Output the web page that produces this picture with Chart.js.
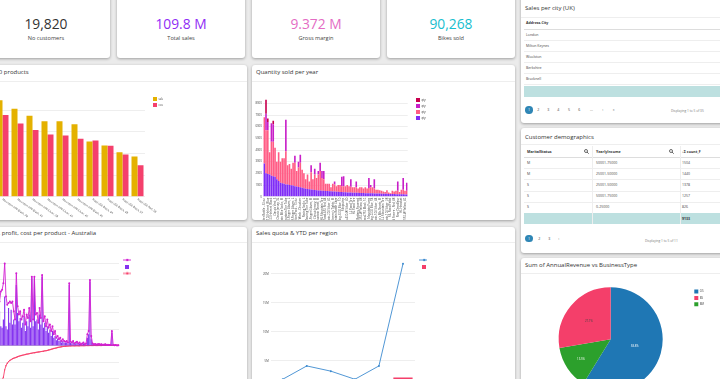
<!DOCTYPE html>
<html><head><meta charset="utf-8">
<script src="https://cdn.jsdelivr.net/npm/chart.js@4.4.1/dist/chart.umd.min.js"></script>
<style>
html,body{margin:0;padding:0;}
body{width:720px;height:379px;overflow:hidden;position:relative;background:#ebebeb;font-family:'Open Sans',sans-serif;color:#333;}
canvas{position:absolute;}
svg{display:block;}
</style></head><body>
<script>
// ---------------- DATA ----------------
const kpiValues = ['19,820', '109.8 M', '9.372 M', '90,268'];
const kpiLabels = ['No customers', 'Total sales', 'Gross margin', 'Bikes sold'];

const topProducts = ['Mountain-200 Black, 38','Mountain-200 Black, 42','Mountain-200 Silver, 38','Mountain-200 Silver, 42','Mountain-200 Silver, 46','Mountain-200 Black, 46','Road-250 Black, 44','Road-250 Black, 48','Road-250 Black, 52','Road-250 Red, 58'];
const topSales = [4460000,4060000,3740000,3490000,3490000,3350000,2550000,2370000,2050000,1860000];
const topCost  = [3770000,3380000,3080000,2880000,2830000,2680000,2600000,2350000,1950000,1450000];

const qtyProducts = ['Water Bottle - 30 oz.','AWC Logo Cap','Sport-100 Helmet, Blue','Long-Sleeve Logo Jersey, L','Sport-100 Helmet, Black','Sport-100 Helmet, Red','Classic Vest, S','Patch Kit/8 Patches','Short-Sleeve Classic Jersey, XL','Long-Sleeve Logo Jersey, M',
'Mountain Bike Socks, M','Half-Finger Gloves, M','Mountain Tire Tube','Road Tire Tube','Full-Finger Gloves, L',"Women's Mountain Shorts, S",'Half-Finger Gloves, L','Short-Sleeve Classic Jersey, L','Hydration Pack - 70 oz.','Long-Sleeve Logo Jersey, XL',
'Bike Wash - Dissolver',"Women's Tights, L",'Racing Socks, L','Mountain-200 Black, 38','Touring Tire Tube','Fender Set - Mountain','Full-Finger Gloves, M','Mountain-200 Silver, 38','Short-Sleeve Classic Jersey, M','Classic Vest, M',
"Women's Mountain Shorts, M",'Mountain-200 Black, 42','HL Mountain Tire','ML Mountain Tire','Road-650 Red, 44','Cable Lock','Mountain-200 Silver, 42','Racing Socks, M',"Women's Tights, M",'Road-650 Black, 52',
'Mountain Bottle Cage','Road Bottle Cage','Touring-3000 Blue, 50','Road-250 Black, 44','Minipump','Headlights - Dual-Beam','Mountain-400-W Silver, 40','Road-550-W Yellow, 38','LL Road Tire','ML Road Tire',
'HL Road Tire','Touring Tire','Taillights - Battery-Powered','Mountain-100 Black, 44','Road-350-W Yellow, 48','Touring-1000 Blue, 60','Road-750 Black, 52','Mountain-300 Black, 40','Mountain Pump','All-Purpose Bike Stand',
'Touring-2000 Blue, 54','Road-150 Red, 62','Mountain-500 Silver, 44','Headlights - Weatherproof',"Men's Bib-Shorts, M","Men's Sports Shorts, L",'LL Mountain Tire','Road-450 Red, 52','Mountain-100 Silver, 38','Touring Pedal',
'ML Road Pedal','HL Mountain Pedal','LL Road Frame - Red, 48','Front Brakes','Rear Derailleur','ML Crankset','HL Headset','Chain','Road-550-W Yellow, 42','Touring-3000 Yellow, 44'];
const qty2014 = [2850,2000,1950,1900,1800,1750,1700,1500,1350,1200, 1150,1100,1050,1050,1000,980,950,900,870,840, 800,760,720,690,660,640,620,600,580,560, 540,530,520,500,490,480,470,460,450,440, 430,420,410,400,390,380,370,360,350,345, 340,335,330,320,315,310,305,300,295,290, 285,280,275,270,265,260,255,250,245,240, 235,230,225,220,215,210,205,200,195,190];
const qty2013 = [3950,3700,3750,1900,2900,2950,2500,1500,2450,1800, 2150,2200,2850,1650,1800,1420,1950,2000,1330,1660, 2100,1540,1280,810,1240,660,1480,900,1320,1040, 1360,1670,1080,1000,610,620,630,340,650,610, 470,580,590,500,510,520,630,540,500,455, 460,465,370,480,485,390,495,400,455,510, 515,420,325,330,285,240,195,150,305,110, 65,270,225,280,285,190,395,400,305,310];
const qty2012 = [0,1400,700,0,1600,1500,0,0,0,0, 0,0,2700,0,0,0,0,600,0,500, 700,0,0,0,0,0,600,0,500,0, 300,700,600,700,0,0,0,0,0,250, 0,0,0,800,850,0,0,0,650,0, 0,500,0,0,0,0,0,0,850,200, 0,800,0,0,0,0,0,0,0,0, 0,0,0,0,800,0,0,1000,0,700];
const qty2011 = [0,1200,300,0,0,300,0,0,0,0, 0,0,0,0,0,0,0,0,0,0, 0,0,0,0,0,0,0,0,0,0, 0,0,0,0,0,0,0,0,0,0, 0,0,0,0,0,0,0,0,0,0, 0,0,0,0,0,0,0,0,0,0, 0,0,0,0,0,0,0,0,0,0, 0,0,0,0,0,0,0,0,0,0];

const ausProducts = ['BK-M68B-38','BK-M68B-42','BK-M68S-38','BK-M68S-42','BK-M68S-46','BK-M68B-46','BK-R50B-44','BK-R50B-48','BK-R50B-52','BK-R50R-58',
'BK-R93R-62','BK-R93R-44','BK-R93R-48','BK-R93R-52','BK-R93R-56','BK-M82B-38','BK-M82B-42','BK-M82B-44','BK-M82B-48','BK-M82S-38',
'BK-M82S-42','BK-M82S-44','BK-M82S-48','BK-T79U-46','BK-T79U-50','BK-T79U-54','BK-T79U-60','BK-T79Y-46','BK-T79Y-50','BK-T79Y-54',
'BK-T79Y-60','BK-R89B-44','BK-R89B-48','BK-R89B-52','BK-R89B-58','BK-R89R-44','BK-R89R-48','BK-R89R-52','BK-R89R-58','BK-T44U-46',
'BK-T44U-50','BK-T44U-54','BK-T44U-60','BK-M38S-38','BK-M38S-40','BK-M38S-42','BK-M38S-46','BK-R64Y-38','BK-R64Y-40','BK-R64Y-42',
'BK-R64Y-44','BK-R64Y-48','BK-R68R-44','BK-R68R-48','BK-R68R-52','BK-R68R-58','BK-R68R-60','BK-M47B-38','BK-M47B-40','BK-M47B-44',
'BK-M47B-48','BK-M18B-40','BK-M18B-42','BK-M18B-44','BK-M18B-48','BK-M18B-52','BK-R19B-44','BK-R19B-48','BK-R19B-52','BK-R19B-58',
'BK-T18U-44','BK-T18U-50','BK-T18U-54','BK-T18U-58','BK-T18U-62','BK-T18Y-44','BK-T18Y-50','BK-T18Y-54','BK-T18Y-58','BK-T18Y-62',
'BK-M18S-40','BK-M18S-42','BK-M18S-44','BK-M18S-48','BK-M18S-52','BK-R79Y-40','BK-R79Y-42','BK-R79Y-44','BK-R79Y-48','BK-M38S-48',
'BK-R50B-58','BK-R50R-44','BK-R50R-48','BK-R50R-52','BK-M47B-52','BK-M68B-52'];
const ausCost = [2400,2800,3100,2700,3300,3400,3800,5000,3000,2500, 2600,2700,2600,2700,2100,1600,4400,2400,1900,2100, 1600,1800,2200,1300,1900,1700,2300,1500,4200,1600, 4200,1900,2000,1400,2300,1700,4300,1500,1800,1200, 1600,1100,1300,900,1200,700,900,500,600,400, 500,300,400,300,250,300,200,3800,250,200, 300,150,200,250,150,200,100,150,200,100, 150,700,900,4000,600,150,100,120,80,100, 120,80,100,60,80,100,50,70,60,50, 900,50,40,50,30,40];
const ausPrice = [1900,2200,2500,2100,1200,1100,1600,3000,1200,1000, 2300,1400,2200,1300,1600,1300,3700,2000,1500,1700, 1100,1400,1800,900,1500,1200,1900,1100,4100,1200, 4100,1500,1600,1000,1900,1300,4200,1100,1400,900, 1200,800,1000,600,900,500,600,350,450,300, 350,200,300,200,180,220,150,3700,180,150, 220,100,150,180,100,150,80,100,150,80, 100,500,700,3900,400,100,80,90,60,80, 90,60,80,40,60,80,40,50,40,40, 800,40,30,40,20,30];
const ausProfit = [-4500,-3600,-3000,-2600,-2300,-2100,-1900,-1450,-1200,-1050, -950,-880,-830,-780,-750,-720,-690,-660,-630,-600, -580,-560,-540,-520,-500,-490,-470,-450,-440,-420, -410,-400,-380,-370,-360,-345,-330,-320,-300,-290, -270,-250,-230,-200,-180,-160,-140,-120,-100,-80, -65,-50,-40,-30,-20,-15,-10,0,0,5, 5,5,10,10,10,10,15,15,15,15, 20,20,20,20,25,25,25,25,30,30, 30,30,30,35,35,35,35,35,40,40, 40,40,40,40,45,45];

const regions = ['Canada','Central','Northeast','Northwest','Southeast','Southwest'];
const ytd   = [1800000,4100000,3200000,1800000,4100000,21700000];
const quota = [1000000,1300000,1200000,900000,1300000,2100000];

const bizTypes = ['OS','BM','BS'];
const revenueShare = [58.8,13.5,27.7];

const ukCities = ['London','Milton Keynes','Woolston','Berkshire','Bracknell'];
const demoStatus = ['M','M','S','S','S'];
const demoIncome = ['50001-75000','25001-50000','25001-50000','50001-75000','0-25000'];
const demoCount = [1504,1440,1378,1257,826];
const demoTotal = 9133;

// ---------------- STYLE ----------------
const C = {
  kpi: ['#333333','#8f2cf5','#e46cc4','#17becf'],
  sales:'#e4b100', cost:'#f4406c',
  y2014:'#7f2cf6', y2013:'#ff5c85', y2012:'#c81fc8', y2011:'#c8004e',
  ausCost:'#d21fd2', ausPrice:'#8533f0', ausProfit:'#f73f6a',
  ytd:'#3d8bd0', quota:'#f43f6a',
  pie:['#1f77b4','#2ca02c','#f43f6a'],
  teal:'#bde0e0', grid:'#eeeeee', pag:'#2f86b5'
};
const TICK = 2.8;

// ---------------- DOM HELPERS ----------------
const body = document.body;
function el(css, text, html){ const e=document.createElement('div'); e.style.cssText='position:absolute;white-space:nowrap;'+css; if(text!==undefined) e.textContent=text; if(html) e.innerHTML=html; body.appendChild(e); return e; }
function card(x,y,w,h){ el(`left:${x}px;top:${y}px;width:${w}px;height:${h}px;background:#fff;border-radius:3px;box-shadow:0 1px 3px rgba(0,0,0,.33);`); }
function txt(s,x,cy,size,o={}){ const h=size*1.6; let css=`top:${cy-h/2}px;height:${h}px;line-height:${h}px;font-size:${size}px;color:${o.color||'#333'};font-weight:${o.weight||400};`;
  if(o.align==='center') css+=`left:${x-100}px;width:200px;text-align:center;`; else css+=`left:${x}px;`; return el(css,s); }
function hl(x,y,w,c){ el(`left:${x}px;top:${y}px;width:${w}px;height:1px;background:${c||'#eeeeee'};`); }
function vl(x,y,h,c){ el(`left:${x}px;top:${y}px;width:1px;height:${h}px;background:${c||'#eeeeee'};`); }
function searchIcon(x,cy){ el(`left:${x}px;top:${cy-2.5}px;width:5px;height:5px;font-size:0;line-height:0;`,undefined,'<svg width="5" height="5" viewBox="0 0 10 10"><circle cx="4" cy="4" r="3" fill="none" stroke="#444" stroke-width="1.6"/><line x1="6.2" y1="6.2" x2="9.3" y2="9.3" stroke="#444" stroke-width="1.8"/></svg>'); }
function pager(items, y, xs){ items.forEach((s,i)=>{ if(i===0){ el(`left:${xs[0]-3.7}px;top:${y-3.7}px;width:7.4px;height:7.4px;border-radius:50%;background:${C.pag};color:#fff;font-size:3.6px;line-height:7.4px;text-align:center;`,s); } else txt(s,xs[i]-1,y,3.6,{color:'#444'}); }); }

// ---------------- CARDS ----------------
const kpiX = [-18,117,252,387];
kpiX.forEach((x,i)=>{ card(x,-5,128,63); txt(kpiValues[i], x+64, 24, 13.8, {align:'center', color:C.kpi[i]}); txt(kpiLabels[i], x+64, 38, 5.6, {align:'center', color:'#444'}); });

card(-21,65,268,155); card(252,65,263,155);
card(-21,227,268,200); card(252,227,263,200);
card(521,-5,205,128); card(521,128,205,125); card(521,258,205,150);

txt('Top 10 products', -16.8, 73, 6);
txt('Quantity sold per year', 256, 73, 6);
hl(-21,81,268); hl(252,81,263);
txt('Price, profit, cost per product - Australia', -15.2, 233.5, 6);
txt('Sales quota & YTD per region', 256, 233.5, 6);
hl(-21,241.5,268); hl(252,241.5,263);
txt('Sales per city (UK)', 525, 8.3, 6);
hl(521,16.5,205);
txt('Customer demographics', 525, 137.3, 6);
hl(521,144,205);
txt('Sum of AnnualRevenue vs BusinessType', 525, 265.7, 6);
hl(521,273,205);

// Sales per city table
txt('Address.City', 526, 23.3, 3.6, {weight:700});
hl(524,28.5,202,'#dddddd');
const rowY1 = [34.7,45.7,57,68,79];
ukCities.forEach((c,i)=>{ txt(c,526,rowY1[i],3.5,{color:'#444'}); hl(524,rowY1[i]+5.4,202); });
el(`left:524px;top:85.8px;width:202px;height:11px;background:${C.teal};`);
pager(['1','2','3','4','5','6','...','›','»'], 110, [529,538.3,548.3,558.3,569,579.3,591,603.3,613.7]);
txt('Displaying 1 to 5 of 35', 671, 111.5, 3.2, {color:'#777'});

// Customer demographics table
txt('MaritalStatus', 527, 151.7, 3.6, {weight:700});
searchIcon(583.5,151.7);
txt('YearlyIncome', 596, 151.7, 3.6, {weight:700});
searchIcon(669,151.7);
txt('↓Σ count_F', 682, 151.7, 3.6, {weight:700});
hl(524,157.3,202,'#dddddd');
const rowY2 = [162.7,173.7,185,196,207];
demoStatus.forEach((s,i)=>{ txt(s,527,rowY2[i],3.5,{color:'#444'}); txt(demoIncome[i],596,rowY2[i],3.5,{color:'#444'}); txt(String(demoCount[i]),682,rowY2[i],3.5,{color:'#444'}); if(i<4) hl(524,rowY2[i]+5.5,202); });
el(`left:524px;top:213px;width:202px;height:11px;background:${C.teal};`);
txt(String(demoTotal), 682, 218.5, 3.5, {weight:700, color:'#333'});
vl(592,146,78); vl(680,146,78);
pager(['1','2','3','›'], 238.5, [529,539.3,549.3,559.3]);
txt('Displaying 1 to 5 of 11', 645, 242, 3.2, {color:'#777'});

// ---------------- CHARTS ----------------
Chart.defaults.font.family = "'Open Sans', sans-serif";
Chart.defaults.color = '#444';
function mkCanvas(x,y,w,h){ const c=document.createElement('canvas'); c.width=w; c.height=h; c.style.cssText=`left:${x}px;top:${y}px;width:${w}px;height:${h}px;`; body.appendChild(c); return c; }
const base = {responsive:false, animation:false, devicePixelRatio:1};
const tf = {size:TICK};
function stepTicks(step){ return s => { const t=[]; for(let v=Math.ceil(s.min/step)*step; v<=s.max+1e-6; v+=step) t.push({value:v}); s.ticks=t; }; }
function gapAxis(w){ return {type:'linear', position:'right', display:true, ticks:{display:false}, grid:{display:false, drawTicks:false}, border:{display:false}, afterFit:s=>{s.width=w;}}; }
function lineIcon(color,w){ const c=document.createElement('canvas'); c.width=w; c.height=4; const g=c.getContext('2d'); g.strokeStyle=color; g.lineWidth=0.9; g.beginPath(); g.moveTo(0,2); g.lineTo(w,2); g.stroke(); g.fillStyle=color; g.beginPath(); g.arc(w/2,2,1.2,0,Math.PI*2); g.fill(); return c; }
function sqIcon(color){ const c=document.createElement('canvas'); c.width=4; c.height=4; const g=c.getContext('2d'); g.fillStyle=color; g.fillRect(0,0,4,4); return c; }

const slantLabels = { id:'slant', afterDraw(chart){ const xs=chart.scales.x, ctx=chart.ctx; ctx.save(); ctx.font=`${TICK}px 'Open Sans'`; ctx.fillStyle='#444'; ctx.textAlign='left'; ctx.textBaseline='middle';
  chart.data.labels.forEach((l,i)=>{ const x=xs.getPixelForTick(i); ctx.save(); ctx.translate(x, xs.top+2.5); ctx.rotate(35*Math.PI/180); ctx.fillText(l,0,0); ctx.restore(); }); ctx.restore(); } };

// Chart 1: Top 10 products
new Chart(mkCanvas(-40,82,285,138), {
  type:'bar',
  data:{labels:topProducts, datasets:[
    {label:'sales', data:topSales, backgroundColor:C.sales, categoryPercentage:0.8, barPercentage:1},
    {label:'cost', data:topCost, backgroundColor:C.cost, categoryPercentage:0.8, barPercentage:1}]},
  options:{...base, layout:{padding:{top:13,right:82,bottom:0,left:0}},
    scales:{
      x:{ticks:{display:false}, grid:{display:false, drawTicks:false}, border:{display:false}, afterFit:s=>{s.height=23.3;}},
      y:{bounds:'data', min:0, max:4700000, afterBuildTicks:stepTicks(1000000), ticks:{font:tf, padding:2}, grid:{color:C.grid, drawTicks:false}, border:{display:false}, afterFit:s=>{s.width=35;}},
      gap:gapAxis(6)},
    plugins:{legend:{position:'right', align:'start', maxWidth:12, labels:{boxWidth:4, boxHeight:4, padding:2, font:tf, color:'#444'}}, tooltip:{enabled:false}}},
  plugins:[slantLabels]
});

// Chart 2: Quantity sold per year
new Chart(mkCanvas(252,82,262,138), {
  type:'bar',
  data:{labels:qtyProducts, datasets:[
    {label:'qty: 2014', data:qty2014, backgroundColor:C.y2014},
    {label:'qty: 2013', data:qty2013, backgroundColor:C.y2013},
    {label:'qty: 2012', data:qty2012, backgroundColor:C.y2012},
    {label:'qty: 2011', data:qty2011, backgroundColor:C.y2011}]},
  options:{...base, datasets:{bar:{categoryPercentage:0.9, barPercentage:1}}, layout:{padding:{top:14,right:88,bottom:0,left:0}},
    scales:{
      x:{stacked:true, ticks:{autoSkip:false, minRotation:90, maxRotation:90, font:tf, padding:1, callback:(v,i)=> i%2===0 ? qtyProducts[i] : ''}, grid:{display:false, drawTicks:false}, border:{display:false}, afterFit:s=>{s.height=23.3;}},
      y:{stacked:true, bounds:'data', min:0, max:8630, afterBuildTicks:stepTicks(1000), ticks:{font:tf, padding:1.5, callback:v=>String(v)}, grid:{color:C.grid, drawTicks:false}, border:{display:false}, afterFit:s=>{s.width=11.3;}},
      gap:gapAxis(6.3)},
    plugins:{legend:{position:'right', align:'start', reverse:true, maxWidth:12, labels:{boxWidth:4, boxHeight:4, padding:2, font:tf, color:'#444'}}, tooltip:{enabled:false}}}
});

// Chart 3: Price, profit, cost per product - Australia
const ausIcons = [lineIcon(C.ausCost,8), sqIcon(C.ausPrice), lineIcon(C.ausProfit,8)];
new Chart(mkCanvas(-40,242,285,196), {
  type:'bar',
  data:{labels:ausProducts, datasets:[
    {type:'line', label:'cost: cost_Australia', data:ausCost, borderColor:C.ausCost, backgroundColor:C.ausCost, borderWidth:0.9, pointRadius:1, pointBorderWidth:0, pointBackgroundColor:C.ausCost, tension:0},
    {type:'bar', label:'price: price_Australia', data:ausPrice, backgroundColor:C.ausPrice, categoryPercentage:1, barPercentage:0.9},
    {type:'line', label:'cost: profit', data:ausProfit, borderColor:C.ausProfit, backgroundColor:C.ausProfit, borderWidth:0.9, pointRadius:0.7, pointBorderWidth:0, pointBackgroundColor:C.ausProfit, tension:0}]},
  options:{...base, layout:{padding:{top:12.7,right:113.6,bottom:0,left:0}},
    scales:{
      x:{ticks:{display:false}, grid:{display:false, drawTicks:false}, border:{display:false}, afterFit:s=>{s.height=9.6;}},
      y:{bounds:'data', min:-5000, max:5530, afterBuildTicks:stepTicks(1000), ticks:{font:tf, padding:2}, grid:{color:c=>c.tick && c.tick.value===0 ? '#c8c8c8' : C.grid, drawTicks:false}, border:{display:false}, afterFit:s=>{s.width=35;}},
      gap:gapAxis(0.4)},
    plugins:{legend:{position:'right', align:'start', maxWidth:12, labels:{usePointStyle:true, pointStyleWidth:8, boxHeight:4, padding:3.9, font:tf, color:'#444',
      generateLabels:(chart)=>{ const items=Chart.defaults.plugins.legend.labels.generateLabels(chart); items.forEach(it=>{ it.pointStyle=ausIcons[it.datasetIndex]; }); return items; }}}, tooltip:{enabled:false}}}
});

// Chart 4: Sales quota & YTD per region
const quotaIcons = [lineIcon(C.ytd,10), sqIcon(C.quota)];
new Chart(mkCanvas(252,242,262,158), {
  type:'bar',
  data:{labels:regions, datasets:[
    {type:'line', label:'YTD', data:ytd, borderColor:C.ytd, backgroundColor:C.ytd, borderWidth:0.9, pointRadius:1, pointBorderWidth:0, pointBackgroundColor:C.ytd, tension:0},
    {type:'bar', label:'quota', data:quota, backgroundColor:C.quota, categoryPercentage:0.8, barPercentage:1}]},
  options:{...base, layout:{padding:{top:12.4,right:87,bottom:0,left:0}},
    scales:{
      x:{ticks:{font:tf}, grid:{display:false, drawTicks:false}, border:{display:false}, afterFit:s=>{s.height=10.3;}},
      y:{bounds:'data', min:0, max:23330000, afterBuildTicks:stepTicks(5000000), ticks:{font:tf, padding:2, callback:v=> v===0 ? '0' : (v/1e6)+'M'}, grid:{color:C.grid, drawTicks:false}, border:{display:false}, afterFit:s=>{s.width=18.7;}}},
    plugins:{legend:{position:'right', align:'start', maxWidth:12, labels:{usePointStyle:true, pointStyleWidth:10, boxHeight:4, padding:4.2, font:tf, color:'#444',
      generateLabels:(chart)=>{ const items=Chart.defaults.plugins.legend.labels.generateLabels(chart); items.forEach(it=>{ it.pointStyle=quotaIcons[it.datasetIndex]; }); return items; }}}, tooltip:{enabled:false}}}
});

// Chart 5: pie
const pieLabelRadius = [0.48,0.69,0.55];
const pieLabelColor = ['#ffffff','#ffffff','#444444'];
const legendOrder = [0,2,1];
const pieLabels = { id:'pielabels', afterDatasetsDraw(chart){ const ctx=chart.ctx, meta=chart.getDatasetMeta(0); const data=chart.data.datasets[0].data; const sum=data.reduce((a,b)=>a+b,0);
  ctx.save(); ctx.font=`${TICK}px 'Open Sans'`; ctx.textAlign='center'; ctx.textBaseline='middle';
  meta.data.forEach((arc,i)=>{ const p=arc.getProps(['x','y','startAngle','endAngle','outerRadius'],true); const mid=(p.startAngle+p.endAngle)/2; const r=p.outerRadius*pieLabelRadius[i];
    ctx.fillStyle=pieLabelColor[i]; ctx.fillText((data[i]/sum*100).toFixed(1)+'%', p.x+Math.cos(mid)*r, p.y+Math.sin(mid)*r); });
  ctx.restore(); } };
new Chart(mkCanvas(521,273,199,119), {
  type:'pie',
  data:{labels:bizTypes, datasets:[{data:revenueShare, backgroundColor:C.pie, borderWidth:0}]},
  options:{...base, layout:{padding:{top:14.3,right:16,bottom:0.7,left:8.4}},
    plugins:{legend:{position:'right', align:'start', maxWidth:12, labels:{boxWidth:4, boxHeight:4, padding:2.3, font:tf, color:'#444', sort:(a,b)=>legendOrder.indexOf(a.index)-legendOrder.indexOf(b.index)}}, tooltip:{enabled:false}}},
  plugins:[pieLabels]
});
</script>
</body></html>
